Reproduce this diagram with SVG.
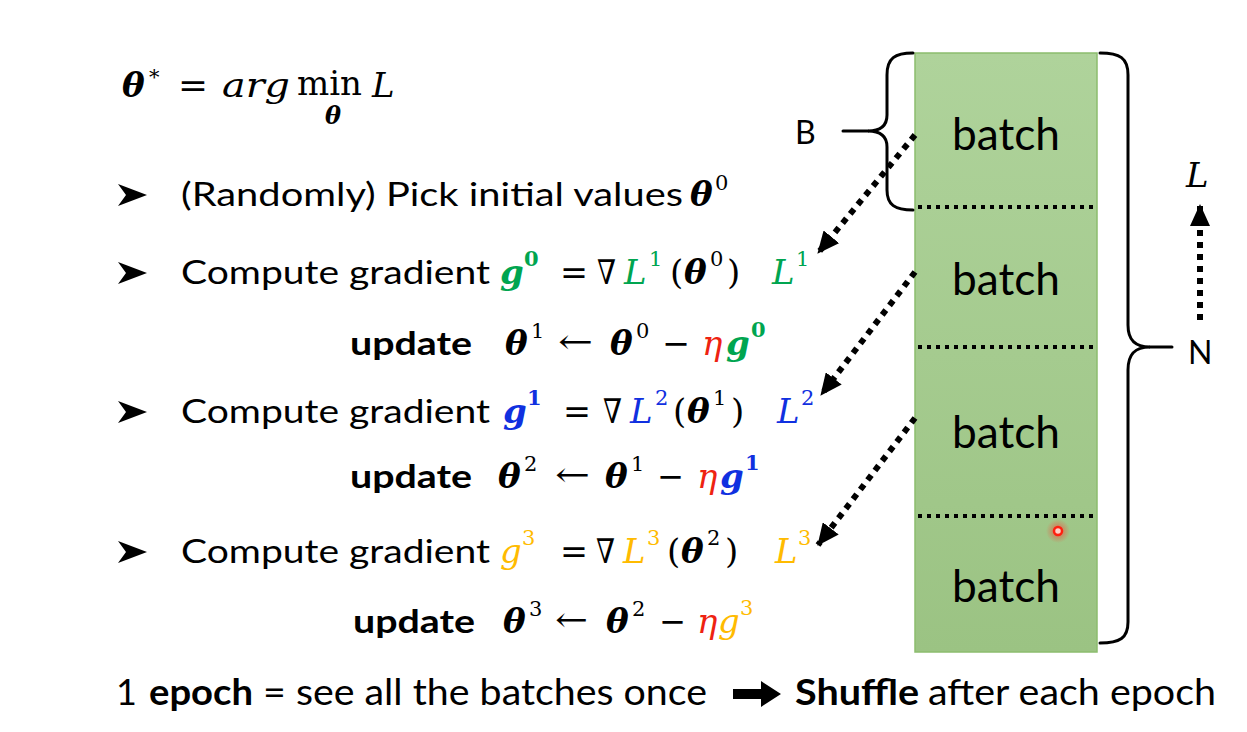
<svg xmlns="http://www.w3.org/2000/svg" width="1247" height="732" viewBox="0 0 1247 732">
  <style>
    .t { font-family: Lato, "Open Sans", "Liberation Sans", sans-serif; font-size: 32px; fill: #000; }
    .bd { font-weight: bold; }
    .m { font-family: "DejaVu Serif", "Liberation Serif", serif; font-size: 34px; fill: #000; }
    .mi { font-style: italic; }
    .mb { font-style: italic; font-weight: bold; }
    .sp { font-family: "DejaVu Serif", "Liberation Serif", serif; font-size: 21px; }
    .spb { font-family: "DejaVu Serif", "Liberation Serif", serif; font-size: 21px; font-weight: bold; }
    .bul { fill: #000; }
    .grn { fill: #00a550; }
    .blu { fill: #1030e0; }
    .org { fill: #ffbb00; }
    .red { fill: #ee2211; }
    .batch { font-family: Lato, "Open Sans", "Liberation Sans", sans-serif; font-size: 44px; fill: #000; text-anchor: middle; }
    .brace { fill: none; stroke: #000; stroke-width: 3; stroke-linecap: round; }
    .sep { stroke: #000; stroke-width: 4; stroke-dasharray: 4 5; }
    .dot { fill: none; stroke: #000; stroke-width: 6; stroke-dasharray: 6 6; marker-end: url(#ah); }
    .bt { font-family: Lato, "Open Sans", "Liberation Sans", sans-serif; font-size: 36px; fill: #000; }
    .sub { font-style: italic; font-weight: bold; font-size: 24px; }
  </style>
  <defs>
    <marker id="ah" viewBox="0 0 22 20" refX="21" refY="10" markerWidth="22" markerHeight="20" markerUnits="userSpaceOnUse" orient="auto">
      <path d="M0,0 L22,10 L0,20 z" fill="#000"/>
    </marker>
    <linearGradient id="col" x1="0" y1="0" x2="0" y2="1">
      <stop offset="0" stop-color="#afd39b"/>
      <stop offset="1" stop-color="#9bc383"/>
    </linearGradient>
    <radialGradient id="glow">
      <stop offset="0" stop-color="#ff3b30" stop-opacity="0.7"/>
      <stop offset="1" stop-color="#ff3b30" stop-opacity="0"/>
    </radialGradient>
    <path id="bullet" d="M0,-11 L29,0 L0,11 L8,0 Z"/>
  </defs>
  <rect width="1247" height="732" fill="#fff"/>

  <!-- objective -->
  <g id="objective">
    <text class="m mb" x="122" y="97" font-size="37">θ</text>
    <text class="sp" x="149" y="84" font-size="24">*</text>
    <text class="m" x="178" y="97" textLength="30" lengthAdjust="spacingAndGlyphs">=</text>
    <text class="m mi" x="222" y="97" textLength="68" lengthAdjust="spacingAndGlyphs">arg</text>
    <text class="m" x="297" y="95">min<tspan class="sub" x="325" y="124">θ</tspan></text>
    <text class="m mi" x="372" y="97" font-size="36">L</text>
  </g>

  <!-- step 0 -->
  <g id="pick">
    <use href="#bullet" class="bul" x="118" y="195"/>
    <text class="t" x="181" y="206" textLength="502" lengthAdjust="spacingAndGlyphs">(Randomly) Pick initial values</text>
    <text class="m mb" x="690" y="206">θ</text>
    <text class="sp" x="715" y="190">0</text>
  </g>

  <g id="grad0">
    <use href="#bullet" class="bul" x="118" y="273"/>
    <text class="t" x="181" y="284" textLength="309" lengthAdjust="spacingAndGlyphs">Compute gradient</text>
    <text class="m mb grn" x="500" y="284">g</text>
    <text class="spb grn" x="524" y="266">0</text>
    <text class="m" x="560" y="284" textLength="28" lengthAdjust="spacingAndGlyphs">=</text>
    <text class="m" x="597" y="284" textLength="19" lengthAdjust="spacingAndGlyphs">∇</text>
    <text class="m mi grn" x="624" y="284">L</text>
    <text class="sp grn" x="649" y="266">1</text>
    <text class="m" x="670" y="284">(</text>
    <text class="m mb" x="684" y="284">θ</text>
    <text class="sp" x="710" y="266">0</text>
    <text class="m" x="727" y="284">)</text>
    <text class="m mi grn" x="772" y="284">L</text>
    <text class="sp grn" x="796" y="266">1</text>
  </g>

  <g id="update1">
    <text class="t bd" x="350" y="355" textLength="122" lengthAdjust="spacingAndGlyphs">update</text>
    <text class="m mb" x="505" y="355">θ</text>
    <text class="sp" x="531" y="338">1</text>
    <text class="m" x="558" y="353" textLength="35" lengthAdjust="spacingAndGlyphs">←</text>
    <text class="m mb" x="610" y="355">θ</text>
    <text class="sp" x="636" y="338">0</text>
    <text class="m" x="662" y="355" textLength="28" lengthAdjust="spacingAndGlyphs">−</text>
    <text class="m mi red" x="702" y="355">η</text>
    <text class="m mb grn" x="726" y="355">g</text>
    <text class="spb grn" x="751" y="337">0</text>
  </g>

  <g id="grad1">
    <use href="#bullet" class="bul" x="118" y="412"/>
    <text class="t" x="181" y="423" textLength="309" lengthAdjust="spacingAndGlyphs">Compute gradient</text>
    <text class="m mb blu" x="503" y="423">g</text>
    <text class="spb blu" x="527" y="405">1</text>
    <text class="m" x="563" y="423" textLength="28" lengthAdjust="spacingAndGlyphs">=</text>
    <text class="m" x="603" y="423" textLength="19" lengthAdjust="spacingAndGlyphs">∇</text>
    <text class="m mi blu" x="630" y="423">L</text>
    <text class="sp blu" x="655" y="405">2</text>
    <text class="m" x="673" y="423">(</text>
    <text class="m mb" x="687" y="423">θ</text>
    <text class="sp" x="713" y="405">1</text>
    <text class="m" x="731" y="423">)</text>
    <text class="m mi blu" x="777" y="423">L</text>
    <text class="sp blu" x="801" y="405">2</text>
  </g>

  <g id="update2">
    <text class="t bd" x="350" y="488" textLength="122" lengthAdjust="spacingAndGlyphs">update</text>
    <text class="m mb" x="498" y="488">θ</text>
    <text class="sp" x="524" y="471">2</text>
    <text class="m" x="555" y="486" textLength="35" lengthAdjust="spacingAndGlyphs">←</text>
    <text class="m mb" x="605" y="488">θ</text>
    <text class="sp" x="631" y="471">1</text>
    <text class="m" x="657" y="488" textLength="27" lengthAdjust="spacingAndGlyphs">−</text>
    <text class="m mi red" x="697" y="488">η</text>
    <text class="m mb blu" x="720" y="488">g</text>
    <text class="spb blu" x="745" y="470">1</text>
  </g>

  <g id="grad2">
    <use href="#bullet" class="bul" x="118" y="552"/>
    <text class="t" x="181" y="563" textLength="309" lengthAdjust="spacingAndGlyphs">Compute gradient</text>
    <text class="m mi org" x="500" y="563">g</text>
    <text class="sp org" x="522" y="545">3</text>
    <text class="m" x="560" y="563" textLength="28" lengthAdjust="spacingAndGlyphs">=</text>
    <text class="m" x="596" y="563" textLength="19" lengthAdjust="spacingAndGlyphs">∇</text>
    <text class="m mi org" x="623" y="563">L</text>
    <text class="sp org" x="647" y="545">3</text>
    <text class="m" x="667" y="563">(</text>
    <text class="m mb" x="681" y="563">θ</text>
    <text class="sp" x="707" y="545">2</text>
    <text class="m" x="725" y="563">)</text>
    <text class="m mi org" x="775" y="563">L</text>
    <text class="sp org" x="798" y="545">3</text>
  </g>

  <g id="update3">
    <text class="t bd" x="353" y="633" textLength="122" lengthAdjust="spacingAndGlyphs">update</text>
    <text class="m mb" x="503" y="633">θ</text>
    <text class="sp" x="529" y="616">3</text>
    <text class="m" x="555" y="631" textLength="33" lengthAdjust="spacingAndGlyphs">←</text>
    <text class="m mb" x="606" y="633">θ</text>
    <text class="sp" x="632" y="616">2</text>
    <text class="m" x="659" y="633" textLength="27" lengthAdjust="spacingAndGlyphs">−</text>
    <text class="m mi red" x="697" y="633">η</text>
    <text class="m mi org" x="718" y="633">g</text>
    <text class="sp org" x="740" y="615">3</text>
  </g>

  <!-- bottom line -->
  <g id="epoch">
    <text class="bt" x="116" y="705">1</text>
    <text class="bt bd" x="149" y="705" textLength="104" lengthAdjust="spacingAndGlyphs">epoch</text>
    <text class="bt" x="263" y="705" textLength="444" lengthAdjust="spacingAndGlyphs">= see all the batches once</text>
    <polygon points="733,689 761,689 761,681 781,694 761,707 761,699 733,699" fill="#000"/>
    <text class="bt bd" x="795" y="705" textLength="124" lengthAdjust="spacingAndGlyphs">Shuffle</text>
    <text class="bt" x="928" y="705" textLength="288" lengthAdjust="spacingAndGlyphs">after each epoch</text>
  </g>

  <!-- data column -->
  <g id="column">
    <rect x="915" y="53" width="182" height="599" fill="url(#col)" stroke="#8cbd6e" stroke-width="1.5"/>
    <line class="sep" x1="918" y1="207" x2="1094" y2="207"/>
    <line class="sep" x1="918" y1="347" x2="1094" y2="347"/>
    <line class="sep" x1="918" y1="516" x2="1094" y2="516"/>
  </g>
  <g id="batch1"><text class="batch" x="1006" y="150" textLength="108" lengthAdjust="spacingAndGlyphs">batch</text></g>
  <g id="batch2"><text class="batch" x="1006" y="295" textLength="108" lengthAdjust="spacingAndGlyphs">batch</text></g>
  <g id="batch3"><text class="batch" x="1006" y="448" textLength="108" lengthAdjust="spacingAndGlyphs">batch</text></g>
  <g id="batch4"><text class="batch" x="1006" y="602" textLength="108" lengthAdjust="spacingAndGlyphs">batch</text></g>

  <!-- B brace -->
  <g id="brace-B">
    <path class="brace" d="M913,53 C895,53 887,58 887,75 L887,115 C887,125 881,131 868,131 C881,131 887,137 887,147 L887,190 C887,205 895,210 913,210"/>
    <path class="brace" d="M843,131 L868,131"/>
    <text class="t" x="795" y="144" font-size="36">B</text>
  </g>

  <!-- N brace -->
  <g id="brace-N">
    <path class="brace" d="M1100,53 C1120,53 1128,58 1128,75 L1128,325 C1128,340 1135,347 1150,347 C1135,347 1128,354 1128,370 L1128,622 C1128,638 1120,643 1100,643"/>
    <path class="brace" d="M1150,347 L1172,347"/>
    <text class="t" x="1188" y="364" font-size="39">N</text>
  </g>

  <g id="L-label">
    <text class="m mi" x="1186" y="187" font-size="40">L</text>
  </g>

  <!-- connectors -->
  <g id="connectors">
    <line class="dot" x1="915" y1="135" x2="818" y2="253"/>
    <line class="dot" x1="915" y1="272" x2="821" y2="395"/>
    <line class="dot" x1="915" y1="418" x2="818" y2="545"/>
    <line class="dot" x1="1200" y1="320" x2="1200" y2="205"/>
  </g>

  <!-- laser pointer dot -->
  <g id="pointer">
    <circle cx="1058" cy="531" r="12" fill="url(#glow)"/>
    <circle cx="1058" cy="531" r="4" fill="#ffd0c8" stroke="#ff2010" stroke-width="2.5"/>
  </g>
</svg>
